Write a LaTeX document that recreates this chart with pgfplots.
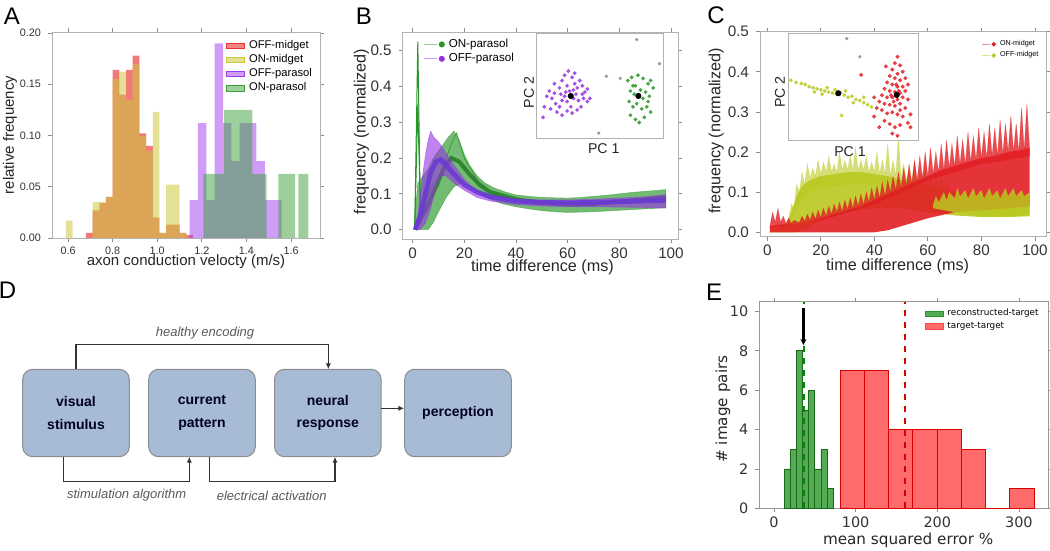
\documentclass[border=0pt]{standalone}
\usepackage{pgfplots}
\pgfplotsset{compat=1.18}
\usepackage{fontspec}
\setmainfont{Liberation Sans}
\newfontfamily\dejavu{DejaVu Sans}
\usetikzlibrary{arrows.meta}
\definecolor{hred}{RGB}{232,50,50}
\definecolor{hyel}{RGB}{205,200,60}
\definecolor{hpur}{RGB}{160,60,240}
\definecolor{hgrn}{RGB}{60,160,60}
\definecolor{bgrn}{RGB}{40,150,40}
\definecolor{bpur}{RGB}{150,50,230}
\definecolor{bpurc}{RGB}{105,55,215}
\definecolor{cred}{RGB}{225,30,35}
\definecolor{cyel}{RGB}{185,200,30}
\definecolor{egrn}{RGB}{40,150,40}
\definecolor{ered}{RGB}{255,70,70}
\definecolor{boxblue}{RGB}{168,187,212}
\pgfplotsset{
  panel/.style={scale only axis, anchor=south west,
    axis line style={draw=black!30},
    tick style={draw=black!45, thin},
    tick align=outside, major tick length=2pt,
    /pgf/number format/assume math mode=true,
    scaled ticks=false,
    tick label style={text=black!80},
    x tick label style={yshift=1.2pt},
    legend cell align=left,
  },
}
\begin{document}
\begin{tikzpicture}
\useasboundingbox (0pt,0pt) rectangle (525pt,275.5pt);

% ---------------- Panel A ----------------
\begin{axis}[panel, at={(26pt,156.5pt)}, width=134pt, height=103pt,
  xmin=0.528, xmax=1.730, ymin=0, ymax=0.201,
  xtick={0.6,0.8,1.0,1.2,1.4,1.6}, ytick={0,0.05,0.1,0.15,0.2},
  x tick label style={/pgf/number format/fixed, /pgf/number format/fixed zerofill, /pgf/number format/precision=1},
  y tick label style={/pgf/number format/fixed, /pgf/number format/fixed zerofill, /pgf/number format/precision=2},
  tick label style={font=\fontsize{5.4}{6}\selectfont},
  xlabel={axon conduction velocty (m/s)}, ylabel={relative frequency},
  label style={font=\fontsize{7.5}{9}\selectfont, text=black!85},
  xlabel style={at={(axis description cs:0.5,-0.115)}, anchor=center},
  ylabel style={at={(axis description cs:-0.157,0.5)}, anchor=center},
  legend style={at={(0.99,0.985)}, anchor=north east, draw=none, fill=none,
    font=\fontsize{5.6}{6}\selectfont, row sep=-2.5pt, inner sep=0.5pt},
]
\addlegendimage{legend image code/.code={\fill[hred, fill opacity=0.6] (0pt,-1.3pt) rectangle (9pt,1.3pt);}}
\addlegendentry{OFF-midget}
\addlegendimage{legend image code/.code={\fill[hyel, fill opacity=0.55] (0pt,-1.3pt) rectangle (9pt,1.3pt);}}
\addlegendentry{ON-midget}
\addlegendimage{legend image code/.code={\fill[hpur, fill opacity=0.5] (0pt,-1.3pt) rectangle (9pt,1.3pt);}}
\addlegendentry{OFF-parasol}
\addlegendimage{legend image code/.code={\fill[hgrn, fill opacity=0.5] (0pt,-1.3pt) rectangle (9pt,1.3pt);}}
\addlegendentry{ON-parasol}
\addplot[forget plot, ybar interval, fill=hred, fill opacity=0.65, draw=none] coordinates {
 (0.68,0.005)(0.71,0.027)(0.74,0.034)(0.77,0.040)(0.80,0.164)(0.83,0.140)(0.86,0.164)(0.89,0.178)
 (0.92,0.102)(0.95,0.090)(0.98,0.020)(1.01,0.005)(1.04,0.013)(1.07,0.013)(1.10,0.005)(1.13,0.003)(1.16,0)};
\addplot[forget plot, ybar interval, fill=hyel, fill opacity=0.55, draw=none] coordinates {
 (0.59,0.017)(0.62,0)(0.65,0)(0.68,0)(0.71,0.035)(0.74,0.035)(0.77,0.040)(0.80,0.155)(0.83,0.162)
 (0.86,0.135)(0.89,0.170)(0.92,0.100)(0.95,0.085)(0.98,0.123)(1.01,0.005)(1.04,0.052)(1.07,0.052)(1.10,0.005)(1.13,0)};
\addplot[forget plot, ybar interval, fill=hpur, fill opacity=0.5, draw=none] coordinates {
 (1.145,0.037)(1.1825,0.112)(1.22,0.037)(1.2575,0.19)(1.295,0.112)(1.3325,0.075)(1.37,0.112)
 (1.4075,0.112)(1.445,0.075)(1.4825,0.037)(1.52,0.037)(1.5575,0)};
\addplot[forget plot, ybar interval, fill=hgrn, fill opacity=0.5, draw=none] coordinates {
 (1.207,0.0625)(1.30,0.125)(1.427,0.0625)(1.491,0)(1.543,0.0625)(1.618,0)(1.633,0.0625)(1.678,0)};
\end{axis}

% ---------------- Panel B ----------------
\begin{axis}[panel, at={(201.35pt,156pt)}, width=137.8pt, height=103.35pt,
  xmin=-3.85, xmax=102.85, ymin=-0.026, ymax=0.551,
  xtick={0,20,40,60,80,100}, ytick={0,0.1,0.2,0.3,0.4,0.5},
  y tick label style={/pgf/number format/fixed, /pgf/number format/fixed zerofill, /pgf/number format/precision=1},
  tick label style={font=\fontsize{7.6}{9}\selectfont},
  xlabel={time difference (ms)}, ylabel={frequency (normalized)},
  label style={font=\fontsize{8.1}{9.5}\selectfont, text=black!85},
  xlabel style={at={(axis description cs:0.507,-0.137)}, anchor=center},
  ylabel style={at={(axis description cs:-0.15,0.52)}, anchor=center},
  legend style={at={(0.07,0.995)}, anchor=north west, draw=none, fill=none,
    font=\fontsize{5.8}{6.5}\selectfont, row sep=-2.5pt, inner sep=0.5pt},
]
\addlegendimage{legend image code/.code={\draw[bgrn, opacity=0.5, line width=0.4pt] (0pt,0pt) -- (6.5pt,0pt); \fill[bgrn] (9pt,0pt) circle (1.3pt);}}
\addlegendentry{ON-parasol}
\addlegendimage{legend image code/.code={\draw[bpur, opacity=0.5, line width=0.4pt] (0pt,0pt) -- (6.5pt,0pt); \fill[bpur] (9pt,0pt) circle (1.3pt);}}
\addlegendentry{OFF-parasol}
% green band
\addplot[forget plot, fill=bgrn, fill opacity=0.65, draw=bgrn, draw opacity=0.5, line width=0.3pt] coordinates {
 (0.5,0)(2,0.13)(4,0.15)(6,0.17)(8,0.2)(10,0.22)(12,0.24)(14,0.26)(16,0.275)(18,0.25)(20,0.21)(22,0.18)
 (25,0.15)(28,0.13)(32,0.115)(36,0.105)(40,0.097)(45,0.093)(50,0.09)(55,0.089)(60,0.088)(65,0.09)(70,0.093)
 (75,0.096)(80,0.1)(85,0.104)(90,0.107)(95,0.11)(98,0.112)
 (98,0.062)(95,0.06)(90,0.058)(85,0.056)(80,0.054)(75,0.052)(70,0.05)(65,0.049)(60,0.048)(55,0.05)(50,0.053)
 (45,0.058)(40,0.064)(35,0.072)(30,0.085)(26,0.1)(22,0.12)(19,0.13)(16,0.12)(13,0.09)(10,0.05)(8,0.02)(6,0.0)(3,0.0)(0.5,0)};
\addplot[forget plot, bgrn!80!black, line width=2pt, opacity=0.8] coordinates {
 (1,0)(3,0.03)(6,0.07)(9,0.12)(12,0.17)(15,0.2)(18,0.19)(22,0.155)(26,0.125)(30,0.105)(40,0.085)(50,0.075)
 (60,0.07)(70,0.072)(80,0.078)(90,0.085)(98,0.09)};
\addplot[forget plot, bgrn, line width=0.5pt] coordinates {(0.8,0)(2,0.525)(3,0.04)(5,0.08)(8,0.13)};
\addplot[forget plot, bgrn, line width=0.5pt] coordinates {(0.8,0)(2,0.35)(3,0.05)(5,0.09)};
\addplot[forget plot, bgrn, line width=0.3pt] coordinates {(10,0.12)(13,0.2)(15,0.24)(17,0.27)(20,0.2)(25,0.14)};
% purple band
\addplot[forget plot, fill=bpur, fill opacity=0.6, draw=bpur, draw opacity=0.5, line width=0.3pt] coordinates {
 (0.5,0)(2,0.04)(3,0.1)(4,0.16)(5,0.21)(6,0.25)(7,0.275)(8,0.26)(10,0.245)(12,0.225)(14,0.2)(16,0.18)(18,0.16)
 (20,0.14)(23,0.12)(26,0.105)(30,0.095)(35,0.088)(40,0.085)(50,0.083)(60,0.083)(70,0.085)(80,0.088)(90,0.092)(98,0.098)
 (98,0.06)(90,0.062)(80,0.063)(70,0.064)(60,0.064)(50,0.066)(40,0.07)(35,0.075)(30,0.08)(25,0.09)(20,0.11)(16,0.13)
 (13,0.15)(11,0.15)(9,0.12)(7,0.06)(5,0.02)(3,0.0)(0.5,0)};
\addplot[forget plot, bpurc, line width=2.4pt, opacity=0.85] coordinates {
 (1,0)(3,0.04)(5,0.1)(7,0.16)(9,0.19)(11,0.195)(13,0.18)(16,0.155)(20,0.125)(25,0.105)(30,0.092)(40,0.08)
 (50,0.076)(60,0.075)(70,0.076)(80,0.078)(90,0.08)(98,0.082)};
\end{axis}
% inset B
\begin{axis}[scale only axis, anchor=south west, at={(268.35pt,206.35pt)}, width=63.3pt, height=52.5pt,
  xmin=0, xmax=100, ymin=0, ymax=100, ticks=none,
  axis line style={draw=black!30}, axis background/.style={fill=white},
  xlabel={PC 1}, ylabel={PC 2},
  label style={font=\fontsize{7.1}{8}\selectfont, text=black!85},
  xlabel style={at={(axis description cs:0.53,-0.095)}, anchor=center},
  ylabel style={at={(axis description cs:-0.06,0.436)}, anchor=center},
]
\addplot[only marks, color=bpur, mark=*, mark size=0.75pt, opacity=0.75] coordinates {
 (10,45)(14,52)(18,48)(20,55)(22,60)(24,50)(26,45)(28,58)(30,52)(32,48)(34,55)(36,50)(38,44)(40,47)
 (12,38)(15,33)(18,30)(20,36)(22,40)(24,35)(27,30)(29,38)(31,42)(33,36)(35,30)(37,38)(40,35)(16,25)
 (20,22)(24,26)(28,24)(32,27)(8,40)(6,30)(5,20)(25,64)(30,62)(19,42)(23,44)(36,42)(42,38)(11,28)(14,43)(29,46)};
\addplot[only marks, color=bgrn, mark=*, mark size=0.75pt, opacity=0.75] coordinates {
 (72,55)(75,58)(78,50)(80,60)(84,57)(88,52)(90,55)(74,45)(77,42)(82,46)(86,44)(89,40)(73,35)(76,30)
 (79,33)(83,28)(87,30)(85,20)(81,15)(78,18)(74,22)(90,25)(88,35)(84,38)(76,50)(92,48)};
\addplot[only marks, color=black!40, mark=*, mark size=0.6pt] coordinates {
 (79,94)(97,71)(49,5)(55,59)(66,57)};
\addplot[only marks, color=black, mark=*, mark size=1.3pt] coordinates {(26.9,40.3)(80.3,40.3)};
\end{axis}

% ---------------- Panel C ----------------
\begin{axis}[panel, at={(380pt,157.15pt)}, width=143.35pt, height=102.5pt,
  xmin=-2.7, xmax=104.4, ymin=-0.011, ymax=0.5,
  xtick={0,20,40,60,80,100}, ytick={0,0.1,0.2,0.3,0.4,0.5},
  y tick label style={/pgf/number format/fixed, /pgf/number format/fixed zerofill, /pgf/number format/precision=1},
  tick label style={font=\fontsize{7.6}{9}\selectfont},
  xlabel={time difference (ms)}, ylabel={frequency (normalized)},
  label style={font=\fontsize{8.1}{9.5}\selectfont, text=black!85},
  xlabel style={at={(axis description cs:0.48,-0.145)}, anchor=center},
  ylabel style={at={(axis description cs:-0.153,0.516)}, anchor=center},
  legend style={at={(0.99,0.985)}, anchor=north east, draw=none, fill=none,
    font=\fontsize{3.6}{4}\selectfont, row sep=-2.5pt, inner sep=0.5pt},
]
\addlegendimage{legend image code/.code={\draw[cred, opacity=0.5, line width=0.3pt] (0pt,0pt) -- (4pt,0pt); \fill[cred] (6pt,0pt) circle (0.9pt);}}
\addlegendentry{ON-midget}
\addlegendimage{legend image code/.code={\draw[cyel, opacity=0.5, line width=0.3pt] (0pt,0pt) -- (4pt,0pt); \fill[cyel] (6pt,0pt) circle (0.9pt);}}
\addlegendentry{OFF-midget}
% yellow base
\addplot[forget plot, fill=cyel, fill opacity=0.9, draw=none] coordinates {
 (1,0.005)(4,0.01)(7,0.02)(9,0.05)(11,0.09)(13,0.115)(16,0.13)(20,0.14)(25,0.145)(30,0.15)(35,0.15)(40,0.145)
 (45,0.14)(50,0.13)(55,0.125)(60,0.115)(65,0.11)(70,0.1)(80,0.095)(90,0.09)(98,0.09)
 (98,0.04)(90,0.038)(80,0.038)(70,0.042)(60,0.05)(50,0.06)(40,0.06)(30,0.05)(20,0.03)(15,0.01)(10,0)(1,0)};
% yellow spikes
\addplot[forget plot, fill=cyel, fill opacity=0.6, draw=cyel, draw opacity=0.4, line width=0.2pt] coordinates {
 (8,0.03)(9,0.07)(10,0.06)(11,0.12)(12,0.1)(13,0.15)(14,0.12)(15,0.17)(16,0.135)(17,0.16)(18,0.14)(19,0.18)
 (20,0.145)(21,0.175)(22,0.15)(23,0.19)(24,0.15)(25,0.17)(26,0.15)(27,0.2)(28,0.155)(29,0.18)(30,0.155)
 (31,0.19)(32,0.155)(33,0.21)(34,0.155)(35,0.18)(36,0.155)(37,0.19)(38,0.15)(39,0.175)(40,0.15)(41,0.2)
 (42,0.145)(43,0.18)(44,0.145)(45,0.22)(46,0.14)(47,0.18)(48,0.14)(49,0.24)(50,0.135)(51,0.17)(52,0.13)
 (53,0.16)(54,0.13)(55,0.175)(56,0.125)(57,0.15)(58,0.12)(59,0.16)(60,0.12)(61,0.14)(62,0.115)(63,0.145)
 (64,0.11)(65,0.14)(66,0.11)(67,0.13)(68,0.105)
 (68,0.09)(60,0.1)(50,0.11)(40,0.12)(30,0.12)(20,0.11)(15,0.1)(11,0.06)(8,0.02)};
% red base
\addplot[forget plot, fill=cred, fill opacity=0.9, draw=none] coordinates {
 (1,0.015)(5,0.02)(10,0.02)(15,0.025)(20,0.035)(25,0.045)(30,0.055)(35,0.065)(40,0.08)(45,0.095)(50,0.11)
 (55,0.125)(60,0.14)(65,0.155)(70,0.165)(75,0.175)(80,0.185)(85,0.19)(90,0.2)(95,0.205)(98,0.21)
 (98,0.065)(90,0.06)(80,0.055)(70,0.05)(60,0.035)(55,0.025)(50,0.015)(45,0.005)(40,0)(1,0)};
% red spikes
\addplot[forget plot, fill=cred, fill opacity=0.8, draw=cred, draw opacity=0.5, line width=0.2pt] coordinates {
 (1,0.015)(2,0.05)(3,0.025)(4,0.06)(5,0.025)(6,0.04)(7,0.022)(8,0.035)(9,0.022)(10,0.03)(12,0.024)(13,0.04)
 (14,0.027)(15,0.045)(16,0.03)(17,0.05)(18,0.033)(19,0.055)(20,0.037)(21,0.06)(22,0.04)(23,0.065)(24,0.045)
 (25,0.07)(26,0.05)(27,0.075)(28,0.052)(29,0.08)(30,0.057)(31,0.085)(32,0.06)(33,0.09)(34,0.065)(35,0.095)
 (36,0.068)(37,0.1)(38,0.075)(39,0.11)(40,0.08)(41,0.115)(42,0.085)(43,0.125)(44,0.09)(45,0.13)(46,0.1)
 (47,0.14)(48,0.105)(49,0.15)(50,0.11)(51,0.16)(52,0.115)(53,0.17)(54,0.12)(55,0.18)(56,0.13)(57,0.19)
 (58,0.135)(59,0.2)(60,0.14)(61,0.21)(62,0.145)(63,0.2)(64,0.15)(65,0.22)(66,0.155)(67,0.23)(68,0.16)
 (69,0.22)(70,0.165)(71,0.24)(72,0.17)(73,0.23)(74,0.17)(75,0.25)(76,0.175)(77,0.24)(78,0.18)(79,0.26)
 (80,0.185)(81,0.25)(82,0.185)(83,0.27)(84,0.19)(85,0.26)(86,0.19)(87,0.28)(88,0.195)(89,0.27)(90,0.2)
 (91,0.29)(92,0.2)(93,0.27)(94,0.2)(95,0.31)(96,0.205)(97,0.32)(98,0.21)
 (98,0.19)(80,0.17)(60,0.13)(40,0.07)(20,0.03)(1,0.01)};
% yellow on top at late times
\addplot[forget plot, fill=cyel, fill opacity=0.85, draw=none] coordinates {
 (62,0.07)(63,0.09)(64,0.075)(66,0.1)(67,0.08)(68,0.1)(70,0.085)(71,0.11)(72,0.09)(74,0.105)(75,0.085)
 (77,0.11)(78,0.09)(80,0.105)(81,0.085)(83,0.11)(84,0.09)(86,0.105)(87,0.085)(89,0.11)(90,0.09)
 (92,0.11)(93,0.09)(95,0.105)(96,0.09)(98,0.1)
 (98,0.045)(95,0.04)(90,0.04)(80,0.04)(70,0.05)(62,0.06)};
\end{axis}
% inset C
\begin{axis}[scale only axis, anchor=south west, at={(394.15pt,205.5pt)}, width=65pt, height=53.35pt,
  xmin=0, xmax=100, ymin=0, ymax=100, ticks=none,
  axis line style={draw=black!30}, axis background/.style={fill=white},
  xlabel={PC 1}, ylabel={PC 2},
  label style={font=\fontsize{7.1}{8}\selectfont, text=black!85},
  xlabel style={at={(axis description cs:0.475,-0.11)}, anchor=center},
  ylabel style={at={(axis description cs:-0.064,0.45)}, anchor=center},
]
\addplot[only marks, color=cyel, mark=*, mark size=0.75pt, opacity=0.75] coordinates {
 (2,56)(6,54)(10,53)(13,52)(16,50)(19,49)(22,48)(25,47)(28,46)(31,45)(34,44)(37,43)(40,44)(43,42)(46,40)
 (49,41)(52,38)(55,37)(58,35)(61,33)(64,31)(20,45)(30,49)(44,46)(50,35)(58,40)(36,47)(26,43)(41,23)};
\addplot[only marks, color=cred, mark=*, mark size=0.8pt, opacity=0.75] coordinates {
 (84,78)(82,72)(86,70)(80,66)(88,64)(84,62)(78,60)(82,58)(86,56)(90,58)(76,54)(80,52)(84,50)(88,50)(92,52)
 (74,48)(78,46)(82,45)(86,44)(90,46)(72,42)(76,40)(80,40)(84,38)(88,40)(92,38)(70,36)(74,34)(78,33)(82,32)
 (86,34)(90,30)(68,30)(72,28)(76,25)(80,26)(84,24)(88,22)(94,24)(66,22)(74,18)(78,15)(82,12)(86,14)(92,16)
 (80,6)(84,4)(94,12)(70,12)(66,40)(86,28)(83,52)(81,36)(85,46)(79,42)(56,61)(75,69)};
\addplot[only marks, color=black!40, mark=*, mark size=0.6pt] coordinates {(45,95)(55,78)};
\addplot[only marks, color=black, mark=*, mark size=1.3pt] coordinates {(38.5,43.8)(83.4,42.2)};
\end{axis}

% ---------------- Panel E ----------------
\begin{axis}[panel, at={(379.65pt,21.35pt)}, width=144.5pt, height=103.3pt,
  axis line style={draw=black!40},
  xmin=-18, xmax=336, ymin=0, ymax=10.5,
  xtick={0,100,200,300}, ytick={0,2,4,6,8,10},
  tick label style={font=\dejavu\fontsize{7.2}{8.5}\selectfont},
  xlabel={mean squared error \%}, ylabel={\# image pairs},
  label style={font=\dejavu\fontsize{7.6}{9}\selectfont, text=black!85},
  xlabel style={at={(axis description cs:0.515,-0.153)}, anchor=center},
  ylabel style={at={(axis description cs:-0.126,0.48)}, anchor=center},
  legend style={at={(0.985,0.99)}, anchor=north east, draw=none, fill=none,
    font=\dejavu\fontsize{4.4}{5}\selectfont, row sep=-2.5pt, inner sep=0.5pt},
]
\addlegendimage{legend image code/.code={\fill[egrn, fill opacity=0.8] (0pt,-1.3pt) rectangle (9pt,1.3pt);}}
\addlegendentry{reconstructed-target}
\addlegendimage{legend image code/.code={\fill[ered, fill opacity=0.8] (0pt,-1.3pt) rectangle (9pt,1.3pt);}}
\addlegendentry{target-target}
\addplot[forget plot, ybar interval, fill=egrn, fill opacity=0.8, draw=egrn!70!black, line width=0.4pt] coordinates {
 (12.5,2)(20,3)(27.5,8)(35,5)(42.5,6)(50,2)(57.5,3)(65,1)(72.5,0)};
\addplot[forget plot, ybar interval, fill=ered, fill opacity=0.8, draw=red!85!black, line width=0.5pt] coordinates {
 (81,7)(110.7,7)(140.4,4)(170.1,4)(199.8,4)(229.5,3)(259.2,0)(288.9,1)(318.6,0)};
\addplot[forget plot, green!55!black, dashed, line width=1pt] coordinates {(37,0)(37,10.5)};
\addplot[forget plot, red!85!black, dashed, line width=1pt] coordinates {(160,0)(160,10.5)};
\addplot[forget plot, black, line width=1.3pt, -{Stealth[length=3pt,width=3pt]}] coordinates {(36,10.2)(36,8.3)};
\end{axis}

% ---------------- Panel D (diagram) ----------------
\tikzset{dbox/.style={draw=black!45, fill=boxblue, rounded corners=5pt, line width=0.5pt,
  minimum width=53.3pt, minimum height=43.7pt, align=center, inner sep=0pt,
  font=\bfseries\fontsize{7}{11.3}\selectfont, text=black!85!blue}}
\node[dbox] at (38pt,69pt) {visual\\stimulus};
\node[dbox] at (101pt,69pt) {current\\pattern};
\node[dbox] at (163.9pt,69pt) {neural\\response};
\node[dbox] at (229pt,69pt) {perception};
\begin{scope}[line width=0.7pt, draw=black!80, -{Latex[length=3pt,width=2.6pt]}]
\draw (38pt,90.85pt) -- (38pt,103.35pt) -- (164.15pt,103.35pt) -- (164.15pt,90.85pt);
\draw (31.65pt,47.15pt) -- (31.65pt,34.65pt) -- (94.65pt,34.65pt) -- (94.65pt,47.15pt);
\draw (104.65pt,47.15pt) -- (104.65pt,34.65pt) -- (167.5pt,34.65pt) -- (167.5pt,47.15pt);
\draw (190.35pt,71.35pt) -- (202.15pt,71.35pt);
\end{scope}
\begin{scope}[font=\itshape\fontsize{6.5}{7.5}\selectfont, text=black!65]
\node at (102.5pt,108.85pt) {healthy encoding};
\node at (63.35pt,28pt) {stimulation algorithm};
\node at (135.85pt,27.5pt) {electrical activation};
\end{scope}

% panel letters
\begin{scope}[font=\fontsize{12}{14}\selectfont]
\node at (6pt,267.5pt) {A};
\node at (182pt,267.5pt) {B};
\node at (358pt,268pt) {C};
\node at (3.8pt,130.5pt) {D};
\node at (357pt,129.5pt) {E};
\end{scope}
\end{tikzpicture}
\end{document}
